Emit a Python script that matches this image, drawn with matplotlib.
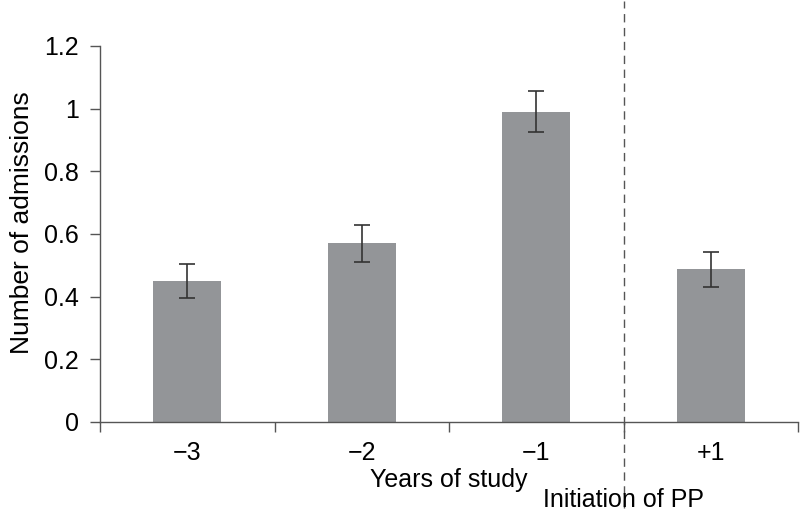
import matplotlib.pyplot as plt
import numpy as np

plt.rcParams['font.family'] = ['Liberation Sans', 'DejaVu Sans']

# Data
years = ['\u22123', '\u22122', '\u22121', '+1']
admissions = [0.45, 0.57, 0.99, 0.487]
errors = [0.055, 0.06, 0.065, 0.055]

bar_color = '#939598'
axis_color = '#555555'

fig = plt.figure(figsize=(8, 5.15), dpi=100)
ax = fig.add_axes([0.125, 0.1806, 0.8725, 0.7301])

x = np.arange(len(years))
ax.bar(x, admissions, width=0.39, color=bar_color, zorder=2)
ax.errorbar(x, admissions, yerr=errors, fmt='none', ecolor='#333333',
            elinewidth=1.2, capsize=6, capthick=1.2, zorder=3)

ax.set_xlim(-0.5, len(years) - 0.5)
ax.set_ylim(0, 1.2)
ax.set_yticks([0, 0.2, 0.4, 0.6, 0.8, 1.0, 1.2])
ax.set_yticklabels(['0', '0.2', '0.4', '0.6', '0.8', '1', '1.2'])

# boundary ticks between categories, labels in the middle
ax.set_xticks(np.arange(-0.5, len(years), 1.0))
ax.set_xticklabels([])
ax.set_xticks(x, minor=True)
ax.set_xticklabels(years, minor=True)
ax.tick_params(axis='x', which='minor', length=0, pad=14, labelsize=18)
ax.tick_params(axis='x', which='major', length=7, width=1, color=axis_color, direction='out')
ax.tick_params(axis='y', length=7, width=1, color=axis_color, direction='out', labelsize=18, pad=8)

for side in ['top', 'right']:
    ax.spines[side].set_visible(False)
for side in ['left', 'bottom']:
    ax.spines[side].set_color(axis_color)
    ax.spines[side].set_linewidth(1)

ax.set_ylabel('Number of admissions', fontsize=19)
ax.yaxis.set_label_coords(-0.095, 0.53)
ax.set_xlabel('Years of study', fontsize=18, labelpad=2)

# initiation of PP marker
ax.axvline(2.5, ymin=-0.228, ymax=1.12, color='#555555', linestyle=(0, (6, 4)),
           linewidth=1, clip_on=False, zorder=1)
ax.text(2.5, -0.25, 'Initiation of PP', ha='center', va='center', fontsize=18,
        transform=ax.transData, clip_on=False)

fig.savefig('out.png', dpi=100)
